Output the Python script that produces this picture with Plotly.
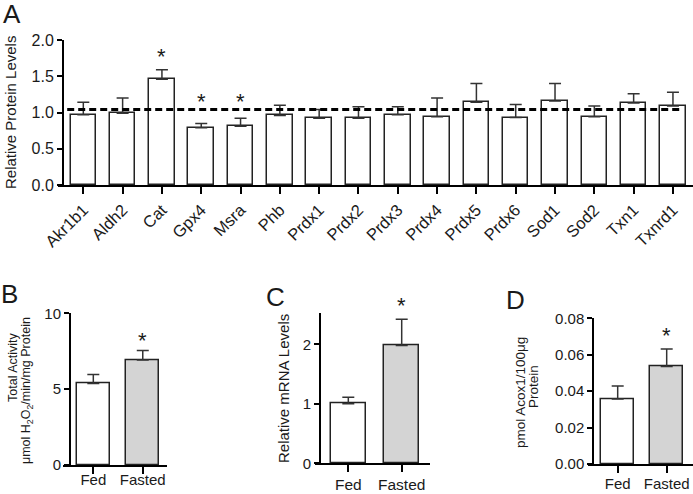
import plotly.graph_objects as go

# ---------------- data ----------------
genes = ["Akr1b1", "Aldh2", "Cat", "Gpx4", "Msra", "Phb", "Prdx1", "Prdx2",
         "Prdx3", "Prdx4", "Prdx5", "Prdx6", "Sod1", "Sod2", "Txn1", "Txnrd1"]
protein_levels = [0.97, 0.99, 1.46, 0.79, 0.81, 0.96, 0.92, 0.92,
                  0.97, 0.94, 1.14, 0.93, 1.16, 0.94, 1.13, 1.09]
protein_err = [0.17, 0.21, 0.13, 0.06, 0.11, 0.14, 0.12, 0.16,
               0.11, 0.26, 0.26, 0.18, 0.24, 0.15, 0.13, 0.19]
reference_level = 1.04
sig_genes = ["Cat", "Gpx4", "Msra"]
sig_star_y = [1.86, 1.23, 1.23]

groups = ["Fed", "Fasted"]
activity = [5.38, 6.92]
activity_err = [0.58, 0.62]
activity_star = 8.6

mrna = [1.00, 1.98]
mrna_err = [0.11, 0.44]
mrna_star = 2.75

acox1 = [0.0357, 0.0535]
acox1_err = [0.0071, 0.0097]
acox1_star = 0.0736

# ---------------- styling ----------------
W, H = 693, 494
FONT = "Arial, Liberation Sans, sans-serif"
INK = "#1a1a1a"
BAR_LINE = dict(color="#222222", width=1.5)


def fx(px):
    return px / W


def fy(py):
    return 1 - py / H


fig = go.Figure()


def add_bars(x, y, err, colors, width, xa, ya):
    fig.add_trace(go.Bar(
        x=x, y=y, width=width, marker=dict(color=colors, line=BAR_LINE),
        error_y=dict(type="data", array=err, arrayminus=[0] * len(err),
                     symmetric=False, color="#333333", thickness=1.5, width=6),
        xaxis=xa, yaxis=ya, showlegend=False, hoverinfo="skip"))


def add_star(x, y, xa, ya, ymax):
    # stars are placed relative to the y-axis domain so they may sit above the range
    for xi, yi in zip(x, y):
        fig.add_annotation(x=xi, y=yi / ymax, xref=xa, yref=ya + " domain", text="*",
                           showarrow=False, yanchor="middle", yshift=-6,
                           font=dict(family=FONT, size=22, color=INK))


Y_MAX = {"y": 2.0, "y2": 10.0, "y3": 2.52, "y4": 0.08}

# Panel A
add_bars(genes, protein_levels, protein_err, ["white"] * len(genes), 0.65, "x", "y")
add_star(sig_genes, sig_star_y, "x", "y", Y_MAX["y"])
# Panel B
add_bars(groups, activity, activity_err, ["white", "#d4d4d4"], 0.67, "x2", "y2")
add_star(["Fasted"], [activity_star], "x2", "y2", Y_MAX["y2"])
# Panel C
add_bars(groups, mrna, mrna_err, ["white", "#d4d4d4"], 0.655, "x3", "y3")
add_star(["Fasted"], [mrna_star], "x3", "y3", Y_MAX["y3"])
# Panel D
add_bars(groups, acox1, acox1_err, ["white", "#d4d4d4"], 0.67, "x4", "y4")
add_star(["Fasted"], [acox1_star], "x4", "y4", Y_MAX["y4"])

# dashed reference line in A
fig.add_shape(type="line", xref="x", yref="y", x0=-0.41, x1=15.18,
              y0=reference_level, y1=reference_level,
              line=dict(color="black", width=3, dash="7px,4px"))

axis_common = dict(showline=True, linecolor="black", linewidth=2,
                   ticks="outside", tickcolor="black", tickwidth=2,
                   showgrid=False, zeroline=False, automargin=False,
                   fixedrange=True)


def xax(domain, rng, anchor, size, ticklen=7, angle=0, standoff=None):
    d = dict(axis_common, domain=domain, range=rng, anchor=anchor,
             type="category", ticklen=ticklen, tickangle=angle,
             tickfont=dict(family=FONT, size=size, color=INK))
    if standoff is not None:
        d["ticklabelstandoff"] = standoff
    return d


def yax(domain, rng, pos, size, dtick, fmt=None):
    d = dict(axis_common, domain=domain, range=rng, anchor="free", position=pos,
             ticklen=5, dtick=dtick, tick0=0,
             tickfont=dict(family=FONT, size=size, color=INK))
    if fmt:
        d["tickformat"] = fmt
    return d


fig.update_layout(
    width=W, height=H, margin=dict(l=0, r=0, t=0, b=0),
    paper_bgcolor="white", plot_bgcolor="rgba(0,0,0,0)",
    font=dict(family=FONT, color=INK),
    bargap=0,
    xaxis=xax([fx(58), 1.0], [-0.644, 15.51], "y", 16.5, ticklen=7, angle=-45),
    yaxis=yax([fy(185), fy(40)], [0, Y_MAX["y"]], fx(63), 16, 0.5, ".1f"),
    xaxis2=xax([fx(63), fx(167)], [-0.613, 1.49], "y2", 15, standoff=-7),
    yaxis2=yax([fy(465), fy(313.3)], [0, Y_MAX["y2"]], fx(70), 15, 5),
    xaxis3=xax([fx(315), fx(430)], [-0.624, 1.53], "y3", 15.5, standoff=-1),
    yaxis3=yax([fy(463.3), fy(313.3)], [0, Y_MAX["y3"]], fx(320), 15, 1),
    xaxis4=xax([fx(588), 1.0], [-0.606, 1.537], "y4", 15, standoff=-2),
    yaxis4=yax([fy(464), fy(318.3)], [0, Y_MAX["y4"]], fx(593.3), 15, 0.02, ".2f"),
)


def label(text, px, py, size, angle=0):
    fig.add_annotation(text=text, x=fx(px), y=fy(py), xref="paper", yref="paper",
                       showarrow=False, textangle=angle, xanchor="center",
                       yanchor="middle", font=dict(family=FONT, size=size, color=INK))


# panel letters
label("A", 12, 14, 26)
label("B", 9, 294, 26)
label("C", 275, 297, 26)
label("D", 515, 300, 26)

# axis titles
label("Relative Protein Levels", 10, 113, 15, -90)
label("Total Activity", 13, 367, 12.5, -90)
label("μmol H<sub>2</sub>O<sub>2</sub>/min/mg Protein", 27, 391, 12.5, -90)
label("Relative mRNA Levels", 283, 389, 15, -90)
label("pmol Acox1/100μg", 520, 393, 13.5, -90)
label("Protein", 533, 387, 13.5, -90)

fig.write_html(
    "out.html",
    config={"displayModeBar": False},
    post_script="document.body.style.margin='0';document.body.style.overflow='hidden';",
)
